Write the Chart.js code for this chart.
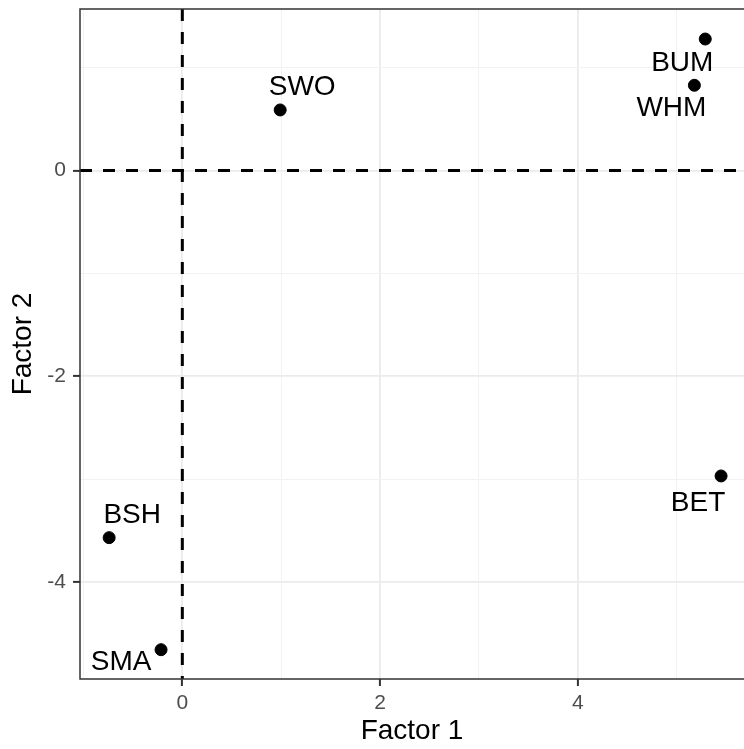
<!DOCTYPE html>
<html>
<head>
<meta charset="utf-8">
<script src="https://cdn.jsdelivr.net/npm/chart.js@4"></script>
<style>
  body{margin:0;background:#fff;overflow:hidden;}
  #wrap{width:744px;height:749px;position:relative;}
</style>
</head>
<body>
<div id="wrap"><canvas id="factorChart"></canvas></div>
<script>
// -------- data --------
const codes   = ['SWO', 'BUM', 'WHM', 'BET', 'BSH', 'SMA'];
const factor1 = [0.99, 5.29, 5.18, 5.45, -0.74, -0.215];
const factor2 = [0.59, 1.28, 0.83, -2.97, -3.57, -4.66];
const xMajor  = [0, 2, 4];
const yMajor  = [0, -2, -4];

// label placement (pixels from the point), like ggrepel output
const labelShift = [[22,-23],[-23,24],[-23,23],[-23,27],[23,-22],[-40,13]];

const FONT = '"Liberation Sans", Arial, Helvetica, sans-serif';
const MAJOR_GRID = '#ebebeb';

// -------- plugins --------
const zeroLines = {
    id:'zeroLines',
    beforeDatasetsDraw(chart){
        const {ctx, chartArea:a, scales:{x,y}} = chart;
        ctx.save();
        ctx.strokeStyle = '#000';
        ctx.lineWidth = 3;
        ctx.setLineDash([12, 11]);
        const x0 = x.getPixelForValue(0), y0 = y.getPixelForValue(0);
        ctx.beginPath();
        ctx.moveTo(a.left, y0); ctx.lineTo(a.right, y0);
        ctx.moveTo(x0, a.top); ctx.lineTo(x0, a.bottom);
        ctx.stroke();
        ctx.restore();
    }
};

const pointLabels = {
    id:'pointLabels',
    afterDatasetsDraw(chart){
        const {ctx} = chart;
        const meta = chart.getDatasetMeta(0);
        ctx.save();
        ctx.font = '28px ' + FONT;
        ctx.fillStyle = '#000';
        ctx.textAlign = 'center';
        ctx.textBaseline = 'middle';
        meta.data.forEach((pt, i)=>{
            ctx.fillText(codes[i], pt.x + labelShift[i][0], pt.y + labelShift[i][1]);
        });
        ctx.restore();
    }
};

// panel frame; the right side runs off the cropped picture
const panelBorder = {
    id:'panelBorder',
    afterDraw(chart){
        const {ctx, chartArea:a} = chart;
        ctx.save();
        ctx.strokeStyle = '#333333';
        ctx.lineWidth = 1.5;
        ctx.beginPath();
        ctx.moveTo(a.right + 2, a.top);
        ctx.lineTo(a.left, a.top);
        ctx.lineTo(a.left, a.bottom);
        ctx.lineTo(a.right + 2, a.bottom);
        ctx.stroke();
        ctx.restore();
    }
};

// -------- chart --------
const gridStyle = majors => ({
    color: c => majors.includes(c.tick.value) ? MAJOR_GRID : '#f2f2f2',
    lineWidth: c => majors.includes(c.tick.value) ? 1.8 : 1,
    tickColor: c => majors.includes(c.tick.value) ? '#333333' : 'rgba(0,0,0,0)',
    tickLength: 7,
    tickWidth: 2
});

const noPad = s => { s.paddingTop = 0; s.paddingBottom = 0; s.paddingLeft = 0; s.paddingRight = 0; };

new Chart(document.getElementById('factorChart'), {
    type:'scatter',
    data:{
        datasets:[{
            data: factor1.map((v, i)=>({x:v, y:factor2[i]})),
            backgroundColor:'#000',
            borderColor:'#000',
            pointRadius:6,
            pointHoverRadius:6
        }]
    },
    options:{
        responsive:true,
        maintainAspectRatio:false,
        animation:false,
        layout:{autoPadding:false, padding:{top:9, right:0, left:0, bottom:0}},
        plugins:{legend:{display:false}, tooltip:{enabled:false}},
        scales:{
            x:{
                type:'linear',
                min:-1.035, max:5.682,
                afterBuildTicks: s => { s.ticks = [-1,0,1,2,3,4,5].map(v=>({value:v})); },
                afterFit: s => { s.height = 70; noPad(s); },
                grid: gridStyle(xMajor),
                border:{display:false},
                ticks:{
                    color:'#4d4d4d',
                    font:{family:FONT, size:21},
                    padding:5,
                    maxRotation:0,
                    autoSkip:false,
                    callback: v => xMajor.includes(v) ? String(v) : ''
                },
                title:{display:true, text:'Factor 1', color:'#000',
                       font:{family:FONT, size:28}, padding:{top:0, bottom:1}}
            },
            y:{
                type:'linear',
                min:-4.945, max:1.572,
                afterBuildTicks: s => { s.ticks = [-4,-3,-2,-1,0,1].map(v=>({value:v})); },
                afterFit: s => { s.width = 80; noPad(s); },
                grid: gridStyle(yMajor),
                border:{display:false},
                ticks:{
                    color:'#4d4d4d',
                    font:{family:FONT, size:21},
                    padding:7,
                    autoSkip:false,
                    callback: v => yMajor.includes(v) ? String(v) : ''
                },
                title:{display:true, text:'Factor 2', color:'#000',
                       font:{family:FONT, size:28}, padding:{top:6, bottom:0}}
            }
        }
    },
    plugins:[zeroLines, pointLabels, panelBorder]
});
</script>
</body>
</html>
